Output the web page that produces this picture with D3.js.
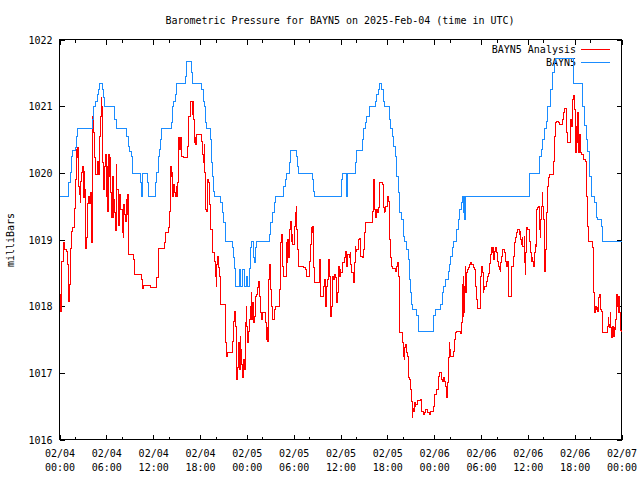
<!DOCTYPE html>
<html><head><meta charset="utf-8">
<script src="https://cdn.jsdelivr.net/npm/d3@7"></script>
<style>
body{margin:0;background:#fff}
svg text{font-family:"DejaVu Sans Mono",monospace;font-size:10px;fill:#000}
</style></head><body>
<svg id="c" width="640" height="480"></svg>
<script>
const title = "Barometric Pressure for BAYN5 on 2025-Feb-04 (time in UTC)";
const yLabel = "milliBars";
const seriesNames = ["BAYN5 Analysis", "BAYN5"];
const seriesColors = ["#ff0000", "#1a8cff"];
const yTicks = [1016, 1017, 1018, 1019, 1020, 1021, 1022];
const xTickHours = [0, 6, 12, 18, 24, 30, 36, 42, 48, 54, 60, 66, 72];
const xMinorHours = [2, 8, 14, 20, 26, 32, 38, 44, 50, 56, 62, 68];

// hours since 2025-02-04 00:00 UTC, pressure (mb)
const analysis = [[0.00,1018.18],[0.13,1017.92],[0.26,1018.67],[0.45,1018.96],[0.64,1018.85],[0.90,1018.82],[0.98,1018.63],[1.09,1018.28],[1.15,1018.33],[1.19,1018.07],[1.28,1018.33],[1.37,1018.87],[1.50,1019.12],[1.62,1019.18],[1.96,1019.47],[2.05,1019.90],[2.17,1020.35],[2.26,1020.23],[2.34,1020.38],[2.43,1019.80],[2.56,1019.68],[2.65,1019.56],[2.75,1019.87],[2.81,1020.01],[2.98,1020.10],[3.07,1019.63],[3.16,1020.02],[3.24,1019.75],[3.33,1018.87],[3.45,1019.03],[3.54,1019.33],[3.62,1019.54],[3.75,1019.65],[3.84,1019.54],[3.96,1019.71],[4.09,1018.96],[4.18,1019.45],[4.26,1020.85],[4.39,1020.61],[4.51,1020.23],[4.60,1019.98],[4.82,1020.17],[4.95,1019.98],[5.12,1020.55],[5.21,1020.85],[5.33,1021.13],[5.41,1020.99],[5.46,1020.70],[5.54,1020.16],[5.67,1019.75],[5.79,1020.10],[5.88,1020.28],[5.97,1019.65],[6.10,1020.10],[6.18,1019.42],[6.23,1020.28],[6.36,1019.95],[6.43,1020.23],[6.52,1019.71],[6.65,1019.33],[6.78,1019.95],[6.87,1019.33],[6.94,1019.60],[7.03,1019.41],[7.16,1019.14],[7.25,1020.13],[7.33,1019.75],[7.51,1019.53],[7.58,1019.21],[7.71,1019.68],[7.86,1019.45],[8.02,1019.11],[8.15,1019.03],[8.25,1019.53],[8.35,1019.38],[8.44,1019.27],[8.53,1019.60],[8.61,1019.38],[8.70,1019.68],[8.79,1019.15],[8.86,1018.78],[9.46,1018.70],[9.59,1018.55],[9.63,1018.48],[10.53,1018.40],[10.65,1018.27],[10.74,1018.31],[11.64,1018.28],[12.49,1018.43],[12.70,1018.87],[13.47,1018.96],[13.56,1019.11],[13.98,1019.18],[14.11,1019.42],[14.20,1020.10],[14.32,1019.95],[14.41,1020.01],[14.49,1019.65],[14.62,1019.83],[14.75,1019.71],[14.84,1019.65],[14.96,1019.80],[15.09,1019.65],[15.18,1019.86],[15.26,1020.53],[15.39,1020.35],[15.48,1020.53],[15.60,1020.28],[15.69,1020.25],[15.90,1020.23],[16.46,1020.40],[16.54,1020.85],[16.75,1021.07],[17.05,1020.88],[17.10,1021.07],[17.20,1020.80],[17.30,1020.46],[17.39,1020.53],[17.48,1020.43],[17.61,1020.58],[18.25,1020.47],[18.38,1020.28],[18.45,1020.16],[18.54,1020.43],[18.63,1020.01],[18.76,1019.45],[18.84,1019.42],[18.97,1019.90],[19.09,1019.86],[19.22,1019.53],[19.31,1019.15],[19.61,1018.81],[19.86,1018.67],[20.04,1018.45],[20.08,1018.30],[20.17,1018.63],[20.25,1018.75],[20.37,1018.58],[20.50,1018.45],[20.59,1018.21],[20.68,1018.03],[21.23,1017.85],[21.32,1017.46],[21.45,1017.25],[21.58,1017.31],[22.21,1017.47],[22.29,1017.77],[22.42,1017.92],[22.51,1017.70],[22.64,1017.16],[22.73,1016.90],[22.80,1017.08],[22.93,1017.46],[23.02,1017.05],[23.15,1017.55],[23.24,1017.35],[23.37,1017.13],[23.49,1016.93],[23.62,1017.20],[23.70,1017.05],[23.79,1017.76],[23.92,1017.99],[24.01,1017.70],[24.13,1017.46],[24.26,1017.62],[24.34,1017.80],[24.43,1017.99],[24.56,1018.21],[24.65,1017.80],[24.77,1018.06],[24.85,1017.76],[24.98,1017.85],[25.07,1018.15],[25.19,1018.18],[25.36,1018.28],[25.49,1018.37],[25.62,1018.15],[25.71,1017.99],[25.80,1017.90],[25.92,1017.80],[26.05,1017.90],[26.35,1017.76],[26.47,1017.50],[26.56,1017.68],[26.64,1017.47],[26.77,1018.40],[26.86,1018.63],[26.99,1018.51],[27.08,1018.25],[27.20,1017.99],[27.33,1017.80],[27.50,1017.95],[27.62,1017.99],[28.17,1018.25],[28.26,1018.80],[28.35,1018.96],[28.48,1019.08],[28.61,1018.60],[28.69,1018.45],[29.03,1018.96],[29.12,1018.66],[29.20,1019.00],[29.33,1018.73],[29.45,1019.15],[29.54,1019.27],[29.67,1018.97],[29.76,1019.08],[29.89,1018.93],[30.05,1019.20],[30.18,1019.41],[30.31,1019.50],[30.40,1019.15],[30.48,1018.85],[30.60,1018.60],[31.24,1018.58],[31.46,1018.55],[31.59,1018.45],[32.01,1018.67],[32.10,1018.93],[32.23,1019.18],[32.32,1019.11],[32.40,1019.20],[32.52,1018.58],[32.65,1018.36],[33.25,1018.70],[33.38,1018.67],[33.47,1018.15],[33.80,1018.30],[33.93,1018.40],[34.02,1018.15],[34.11,1017.99],[34.24,1018.30],[34.37,1018.40],[34.44,1018.70],[34.53,1018.45],[34.66,1018.06],[34.75,1017.85],[34.88,1017.99],[34.95,1018.45],[35.08,1018.40],[35.21,1018.48],[35.30,1018.43],[35.43,1018.36],[35.52,1018.06],[35.59,1018.21],[35.72,1018.60],[35.85,1018.45],[35.94,1018.55],[36.06,1018.51],[36.28,1018.66],[36.45,1018.73],[36.58,1018.82],[36.71,1018.70],[36.83,1018.60],[36.96,1018.78],[37.09,1018.73],[37.22,1018.80],[37.34,1018.63],[37.47,1018.51],[37.64,1018.36],[37.73,1018.66],[37.86,1018.90],[37.98,1018.82],[38.11,1018.85],[38.28,1019.00],[38.41,1019.02],[38.50,1018.85],[38.62,1018.75],[38.84,1018.73],[38.92,1018.85],[39.05,1019.11],[39.14,1019.26],[40.07,1019.42],[40.20,1019.90],[40.32,1019.75],[40.41,1019.45],[40.54,1019.33],[40.63,1019.45],[40.76,1019.41],[40.84,1019.48],[40.96,1019.56],[41.05,1019.86],[41.40,1019.83],[41.48,1019.48],[41.60,1019.41],[41.69,1019.42],[41.82,1019.50],[41.98,1019.65],[42.11,1019.57],[42.24,1019.42],[42.33,1019.00],[42.42,1018.73],[42.55,1018.60],[42.67,1018.57],[43.10,1018.52],[43.19,1018.60],[43.27,1018.66],[43.39,1018.60],[43.48,1018.45],[43.52,1017.90],[43.61,1017.61],[43.96,1017.46],[44.03,1017.25],[44.16,1017.20],[44.25,1017.38],[44.38,1017.43],[44.47,1017.31],[44.60,1017.25],[44.67,1016.93],[44.80,1016.90],[44.98,1016.75],[45.11,1016.57],[45.19,1016.33],[45.28,1016.47],[45.37,1016.42],[45.44,1016.55],[45.57,1016.50],[45.66,1016.53],[45.82,1016.58],[46.30,1016.60],[46.39,1016.42],[46.59,1016.38],[46.81,1016.40],[46.94,1016.45],[47.15,1016.40],[47.36,1016.38],[47.54,1016.42],[47.87,1016.50],[48.09,1016.68],[48.30,1016.75],[48.51,1016.95],[48.64,1017.00],[48.85,1017.00],[48.94,1016.90],[49.07,1016.87],[49.24,1016.93],[49.37,1016.87],[49.49,1016.80],[49.58,1016.63],[49.66,1016.86],[49.79,1017.23],[49.92,1017.46],[50.01,1017.35],[50.13,1017.25],[50.43,1017.32],[50.56,1017.50],[50.68,1017.61],[50.86,1017.62],[51.38,1017.59],[51.45,1017.76],[51.58,1018.33],[51.63,1017.85],[51.71,1018.45],[51.80,1017.90],[51.89,1018.30],[51.96,1018.60],[52.05,1018.21],[52.14,1018.51],[52.27,1018.55],[52.35,1018.58],[52.47,1018.63],[52.65,1018.66],[52.78,1018.63],[52.99,1018.58],[53.21,1018.55],[53.33,1018.30],[53.42,1018.10],[53.55,1017.97],[53.84,1017.97],[53.93,1018.45],[54.06,1018.60],[54.19,1018.51],[54.27,1018.21],[54.36,1018.25],[54.49,1018.30],[54.70,1018.37],[54.78,1018.45],[54.90,1018.49],[55.03,1018.55],[55.12,1018.64],[55.25,1018.78],[55.38,1018.88],[55.47,1018.80],[55.54,1018.88],[55.63,1018.70],[55.76,1018.82],[55.89,1018.88],[55.98,1018.80],[56.10,1018.67],[56.18,1018.60],[56.31,1018.55],[56.49,1018.52],[56.53,1018.66],[56.62,1018.75],[56.75,1018.85],[56.95,1018.80],[57.13,1018.67],[57.26,1018.60],[57.34,1018.67],[57.46,1018.30],[57.55,1018.15],[57.90,1018.37],[57.97,1018.60],[58.10,1018.75],[58.23,1018.88],[58.32,1018.96],[58.45,1019.03],[58.61,1019.11],[58.74,1019.15],[58.87,1019.08],[58.96,1019.12],[59.05,1019.00],[59.18,1018.93],[59.30,1019.03],[59.38,1018.90],[59.51,1019.05],[59.60,1018.66],[59.64,1018.48],[59.73,1018.80],[59.82,1019.12],[59.89,1019.18],[60.02,1019.15],[60.15,1019.05],[60.24,1018.97],[60.37,1018.80],[60.46,1018.67],[60.58,1018.73],[60.66,1018.67],[60.75,1018.60],[60.84,1018.80],[60.92,1018.93],[61.00,1018.90],[61.09,1019.20],[61.17,1019.45],[61.30,1019.48],[61.39,1019.50],[61.52,1019.15],[61.61,1019.03],[61.68,1019.30],[61.77,1019.50],[61.86,1019.71],[61.94,1019.50],[62.03,1019.30],[62.12,1018.90],[62.19,1018.52],[62.28,1018.85],[62.37,1019.41],[62.50,1019.80],[62.63,1019.93],[62.79,1019.98],[63.31,1020.17],[63.44,1020.55],[63.56,1020.76],[63.73,1020.77],[63.99,1020.76],[64.07,1020.73],[64.42,1020.80],[64.59,1020.91],[64.71,1020.97],[64.93,1020.95],[65.01,1020.61],[65.14,1020.46],[65.35,1020.46],[65.44,1020.80],[65.57,1020.70],[65.70,1021.06],[65.77,1021.10],[65.90,1021.16],[65.99,1020.95],[66.12,1020.31],[66.21,1020.70],[66.29,1020.46],[66.38,1020.91],[66.46,1020.55],[66.54,1020.31],[66.63,1020.58],[66.72,1020.31],[66.84,1020.28],[67.18,1020.20],[67.40,1020.17],[67.56,1019.65],[67.65,1019.20],[67.74,1018.97],[68.25,1018.88],[68.38,1018.60],[68.46,1018.21],[68.55,1017.90],[68.68,1017.99],[68.77,1017.95],[68.89,1017.98],[68.97,1017.92],[69.06,1018.13],[69.19,1018.18],[69.28,1018.07],[69.36,1017.95],[69.45,1017.92],[69.54,1017.73],[69.61,1017.61],[70.05,1017.61],[70.18,1017.70],[70.30,1017.83],[70.38,1017.73],[70.47,1017.68],[70.56,1017.90],[70.64,1017.68],[70.73,1017.53],[70.82,1017.65],[70.89,1017.70],[70.98,1017.55],[71.07,1017.68],[71.15,1017.65],[71.24,1017.80],[71.33,1017.99],[71.40,1018.18],[71.49,1017.99],[71.58,1017.90],[71.66,1018.15],[71.75,1017.90],[71.84,1017.64],[71.97,1017.62]];

const obs = [[0.00,1019.65],[1.19,1019.85],[1.41,1020.01],[1.53,1020.25],[1.70,1020.34],[2.05,1020.38],[2.17,1020.55],[2.34,1020.66],[4.18,1020.80],[4.31,1021.00],[4.60,1021.07],[4.90,1021.18],[5.03,1021.25],[5.15,1021.34],[5.46,1021.25],[5.67,1021.13],[5.79,1021.00],[7.03,1020.80],[7.25,1020.66],[8.57,1020.55],[8.79,1020.40],[8.95,1020.32],[9.21,1020.25],[9.37,1019.99],[10.36,1019.85],[10.49,1019.65],[10.65,1019.99],[11.22,1019.85],[11.42,1019.65],[12.28,1019.85],[12.41,1020.01],[12.62,1020.25],[12.79,1020.35],[12.92,1020.50],[13.05,1020.66],[14.32,1020.76],[14.49,1021.00],[14.62,1021.07],[14.84,1021.18],[14.96,1021.25],[15.05,1021.34],[16.11,1021.45],[16.33,1021.67],[16.88,1021.51],[17.05,1021.34],[18.25,1021.25],[18.42,1021.07],[18.58,1021.00],[18.76,1020.75],[18.84,1020.66],[19.40,1020.50],[19.50,1020.15],[19.63,1019.95],[19.73,1019.72],[19.82,1019.65],[20.68,1019.55],[20.85,1019.41],[21.01,1019.26],[21.23,1018.97],[22.16,1018.88],[22.29,1018.73],[22.42,1018.56],[22.60,1018.30],[23.02,1018.55],[23.15,1018.30],[23.44,1018.55],[23.66,1018.30],[24.01,1018.45],[24.13,1018.30],[24.30,1018.57],[24.47,1018.88],[24.65,1018.97],[24.81,1018.73],[24.98,1018.66],[25.07,1018.88],[25.28,1018.97],[26.90,1019.07],[27.08,1019.25],[27.33,1019.40],[27.50,1019.55],[27.69,1019.65],[28.69,1019.80],[28.90,1019.90],[29.03,1019.99],[29.45,1020.15],[29.58,1020.34],[30.40,1020.25],[30.53,1020.10],[30.66,1019.99],[32.45,1019.90],[32.57,1019.72],[32.70,1019.65],[36.16,1019.90],[36.32,1019.99],[36.74,1019.65],[36.92,1019.99],[37.86,1020.15],[38.07,1020.34],[38.84,1020.50],[39.01,1020.66],[39.26,1020.76],[39.39,1020.85],[39.74,1021.00],[40.54,1021.07],[40.67,1021.18],[40.84,1021.25],[41.05,1021.34],[41.31,1021.25],[41.48,1021.07],[41.69,1021.00],[42.24,1020.80],[42.42,1020.66],[42.63,1020.55],[42.84,1020.40],[43.01,1020.25],[43.19,1019.95],[43.39,1019.70],[43.61,1019.40],[43.83,1019.30],[44.03,1019.05],[44.25,1018.97],[44.47,1018.85],[44.67,1018.70],[44.80,1018.40],[44.98,1018.20],[45.11,1018.03],[45.24,1017.95],[45.75,1017.86],[45.95,1017.62],[47.87,1017.86],[48.21,1017.95],[48.85,1018.03],[49.07,1018.20],[49.24,1018.30],[49.49,1018.40],[49.79,1018.52],[49.92,1018.63],[50.13,1018.75],[50.35,1018.88],[50.52,1018.97],[50.86,1019.15],[51.07,1019.30],[51.28,1019.45],[51.50,1019.55],[51.63,1019.65],[51.71,1019.41],[51.80,1019.65],[51.89,1019.30],[51.96,1019.65],[60.15,1019.99],[61.52,1020.25],[61.73,1020.35],[61.94,1020.50],[62.16,1020.66],[62.37,1020.77],[62.58,1021.00],[62.89,1021.25],[63.14,1021.50],[63.44,1021.65],[63.56,1021.72],[65.86,1021.34],[67.01,1021.00],[67.27,1020.71],[67.49,1020.50],[67.69,1020.32],[67.91,1019.95],[68.13,1019.65],[68.55,1019.55],[68.77,1019.33],[68.97,1019.30],[69.41,1019.20],[69.61,1018.97],[72.00,1018.97]];

const start = Date.UTC(2025, 1, 4, 0, 0);
const toDate = h => new Date(start + h * 3600000);

const L = 59.5, R = 621.5, T = 39.5, B = 439.5;
const svg = d3.select("#c");
const x = d3.scaleUtc().domain([toDate(0), toDate(72)]).range([L, R]);
const y = d3.scaleLinear().domain([1016, 1022]).range([B, T]);

const fmtDate = d3.utcFormat("%m/%d"), fmtTime = d3.utcFormat("%H:%M");
const majors = xTickHours.map(toDate), minors = xMinorHours.map(toDate);

function styleAxis(g) {
  g.attr("font-family", "DejaVu Sans Mono").attr("font-size", 10)
   .attr("shape-rendering", "crispEdges");
  g.select(".domain").remove();
}

// bottom major + labels
svg.append("g").attr("transform", `translate(0,${B})`)
  .call(d3.axisBottom(x).tickValues(majors).tickSizeInner(-5).tickSizeOuter(0).tickFormat(""))
  .call(styleAxis)
  .call(g => g.selectAll(".tick text").remove())
  .call(g => g.selectAll(".tick").each(function(d) {
    const t = d3.select(this);
    t.append("text").attr("y", 17).attr("text-anchor", "middle").text(fmtDate(d));
    t.append("text").attr("y", 31).attr("text-anchor", "middle").text(fmtTime(d));
  }));
svg.append("g").attr("transform", `translate(0,${B})`)
  .call(d3.axisBottom(x).tickValues(minors).tickSizeInner(-3).tickSizeOuter(0).tickFormat(""))
  .call(styleAxis);
// top
svg.append("g").attr("transform", `translate(0,${T})`)
  .call(d3.axisTop(x).tickValues(majors).tickSizeInner(-5).tickSizeOuter(0).tickFormat(""))
  .call(styleAxis);
svg.append("g").attr("transform", `translate(0,${T})`)
  .call(d3.axisTop(x).tickValues(minors).tickSizeInner(-3).tickSizeOuter(0).tickFormat(""))
  .call(styleAxis);
// left
svg.append("g").attr("transform", `translate(${L},0)`)
  .call(d3.axisLeft(y).tickValues(yTicks).tickSizeInner(-5).tickSizeOuter(0).tickPadding(7).tickFormat(d3.format("d")))
  .call(styleAxis)
  .call(g => g.selectAll("text").attr("dy", "0.35em").attr("shape-rendering", null));
// right
svg.append("g").attr("transform", `translate(${R},0)`)
  .call(d3.axisRight(y).tickValues(yTicks).tickSizeInner(-5).tickSizeOuter(0).tickFormat(""))
  .call(styleAxis);

// frame
svg.append("rect").attr("x", L).attr("y", T).attr("width", R - L).attr("height", B - T)
  .attr("fill", "none").attr("stroke", "#000").attr("stroke-width", 1).attr("shape-rendering", "crispEdges");

// title & y label
svg.append("text").attr("x", 340).attr("y", 23.5).attr("text-anchor", "middle").text(title);
svg.append("text").attr("transform", "translate(13.5,240) rotate(-90)").attr("text-anchor", "middle").text(yLabel);

const line = d3.line().curve(d3.curveStepAfter)
  .x(d => x(toDate(d[0]))).y(d => y(d[1]));

const series = [analysis, obs];
series.forEach((data, i) => {
  const ly = 49.5 + i * 13;
  svg.append("text").attr("x", 576).attr("y", ly + 3.6).attr("text-anchor", "end").text(seriesNames[i]);
  svg.append("line").attr("x1", 581).attr("x2", 610).attr("y1", ly).attr("y2", ly)
    .attr("stroke", seriesColors[i]).attr("stroke-width", 1).attr("shape-rendering", "crispEdges");
  svg.append("path").datum(data).attr("d", line)
    .attr("fill", "none").attr("stroke", seriesColors[i]).attr("stroke-width", 1)
    .attr("shape-rendering", "crispEdges");
});
</script>
</body></html>
